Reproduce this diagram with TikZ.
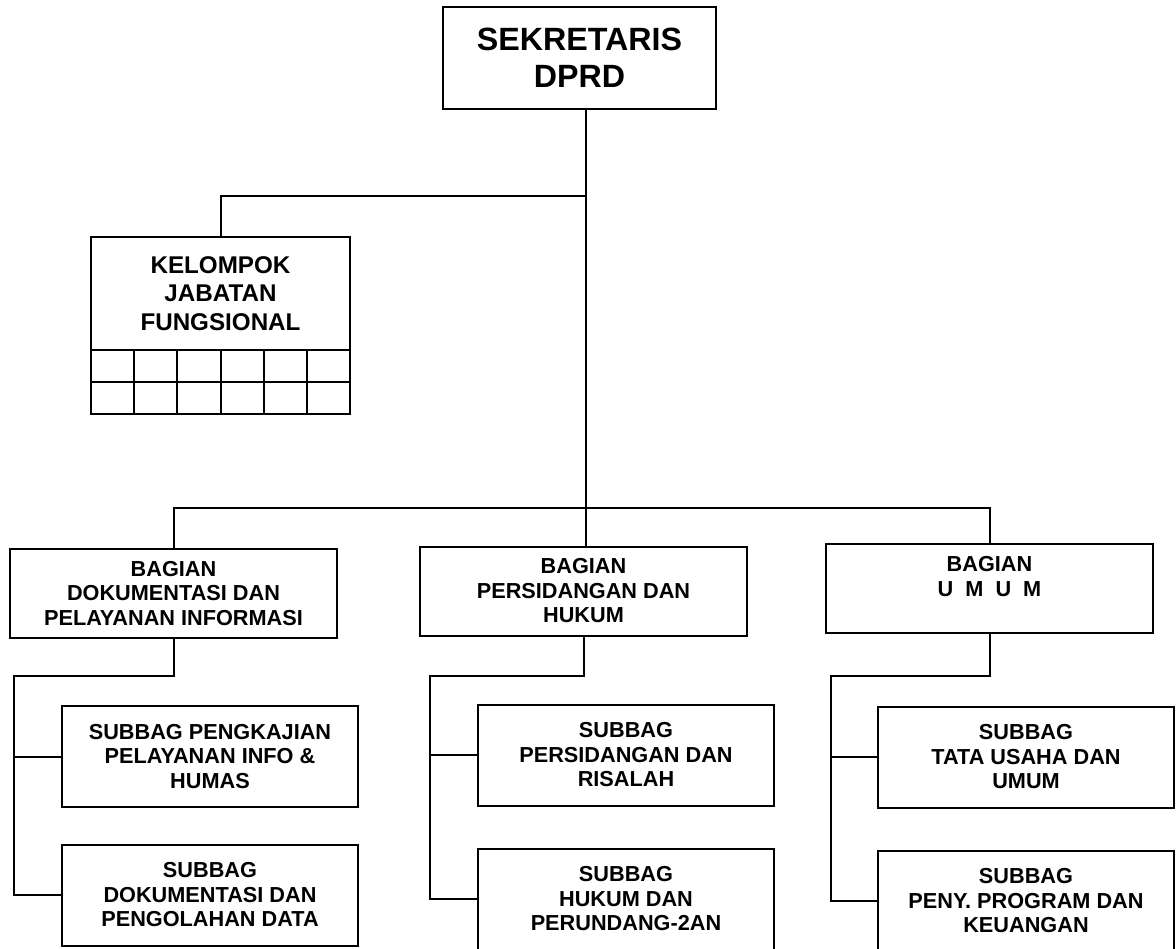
\documentclass[tikz,border=0pt]{standalone}
\usepackage{fontspec}
\setmainfont{Liberation Sans}
\begin{document}
\begin{tikzpicture}
[x=1pt,y=-1pt,%
 linestyle/.style={line width=2pt},%
 boxstyle/.style={draw,rectangle,line width=2pt,inner sep=0pt,outer sep=0pt,align=center,%
   font=\bfseries\fontsize{21.7}{24.5}\selectfont},%
 subbox/.style={boxstyle,minimum width=296pt,minimum height=101pt},%
 bagbox/.style={boxstyle,minimum width=327pt,minimum height=89pt}]
\useasboundingbox (0,0) rectangle (1176,949);
%% top box
\node[boxstyle,minimum width=273pt,minimum height=102pt,%
  font=\bfseries\fontsize{32.2}{37}\selectfont] (sek) at (579.5,58) {SEKRETARIS\\DPRD};
%% functional group with its grid
\node[boxstyle,minimum width=259pt,minimum height=113pt,%
  font=\bfseries\fontsize{24.2}{28.5}\selectfont] (kjf) at (220.5,293.5) {KELOMPOK\\JABATAN\\FUNGSIONAL};
\foreach \c in {0,...,5}
  \foreach \r in {0,1}
    \draw[linestyle,shift={(kjf.south west)}] (43.1667*\c,32*\r) rectangle ++(43.1667,32);
%% bagian
\node[bagbox] (bag1) at (173.5,593.5) {BAGIAN\\DOKUMENTASI DAN\\PELAYANAN INFORMASI};
\node[bagbox] (bag2) at (583.5,591) {BAGIAN\\PERSIDANGAN DAN\\HUKUM};
\node[bagbox] (bag3) at (989.5,588.5) {BAGIAN\\U\ \ M\ \ U\ \ M\\\mbox{}};
%% subbagian
\node[subbox] (sub11) at (210,756.5) {SUBBAG PENGKAJIAN\\PELAYANAN INFO \&\\HUMAS};
\node[subbox] (sub12) at (210,895) {SUBBAG\\DOKUMENTASI DAN\\PENGOLAHAN DATA};
\node[subbox] (sub21) at (626,755) {SUBBAG\\PERSIDANGAN DAN\\RISALAH};
\node[subbox] (sub22) at (626,899) {SUBBAG\\HUKUM DAN\\PERUNDANG-2AN};
\node[subbox] (sub31) at (1026,757) {SUBBAG\\TATA USAHA DAN\\UMUM};
\node[subbox] (sub32) at (1026,901) {SUBBAG\\PENY. PROGRAM DAN\\KEUANGAN};
%% connectors
\coordinate (jf) at (586,196);
\coordinate (trunk) at (586,508);
\draw[linestyle] (sek.south -| trunk) -- (trunk);
\draw[linestyle] (kjf.north) |- (jf);
\draw[linestyle] (bag1.north) |- (trunk) -| (bag3.north);
\draw[linestyle] (trunk) -- (trunk |- bag2.north);
\foreach \b/\r in {1/14,2/430,3/831} {
  \coordinate (rail\b) at (\r,676);
  \draw[linestyle] (bag\b.south) |- (rail\b) |- (sub\b2.west);
  \draw[linestyle] (rail\b |- sub\b1.west) -- (sub\b1.west);
}
\end{tikzpicture}
\end{document}
